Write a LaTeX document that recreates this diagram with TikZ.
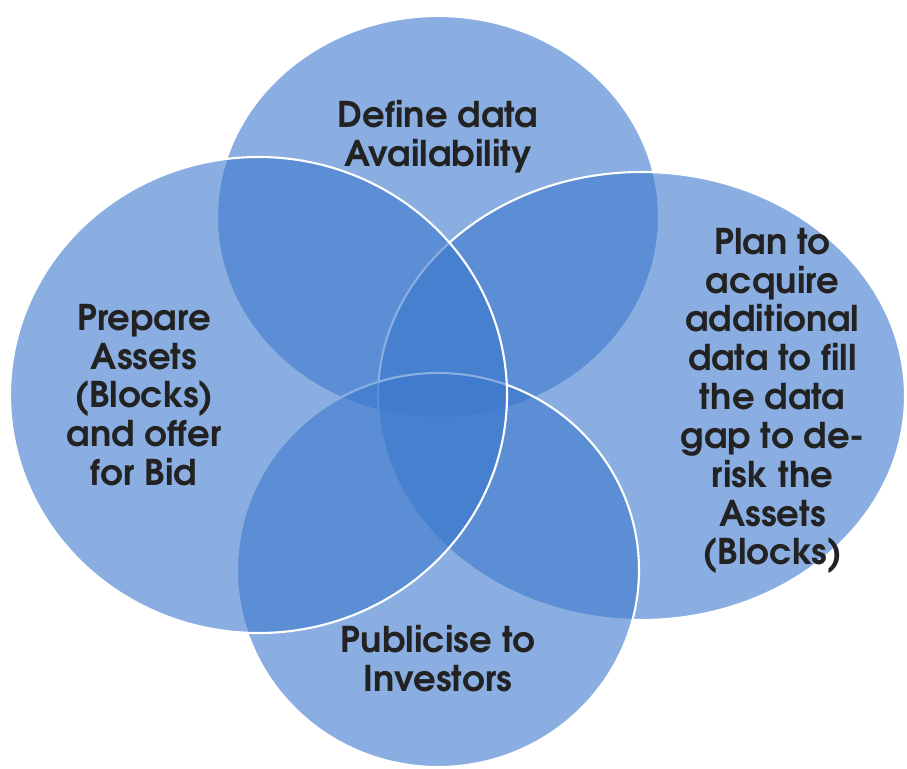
\documentclass[tikz,border=0pt]{standalone}
\usepackage{fontspec}
\setmainfont{TeX Gyre Adventor}
\usetikzlibrary{shapes.geometric}
\definecolor{vennblue}{RGB}{60,120,205}
\definecolor{txtgray}{RGB}{34,34,34}
\begin{document}
\begin{tikzpicture}[
  venn/.style={ellipse, fill=vennblue, fill opacity=0.6, draw=white, draw opacity=1, line width=1.2pt, inner sep=0pt},
  lbl/.style={text=txtgray, font=\fontsize{20.2}{22.1}\selectfont\bfseries, align=center, inner sep=0pt}
]
\useasboundingbox (0,0) rectangle (18.14,-15.36);
\node[venn, minimum width=8.84cm, minimum height=8.04cm] (ctop) at (8.76,-4.34) {};
\node[venn, minimum width=10.54cm, minimum height=8.96cm] (cright) at (12.83,-7.92) {};
\node[venn, minimum width=8.04cm, minimum height=7.88cm] (cbottom) at (8.76,-11.40) {};
\node[venn, minimum width=9.94cm, minimum height=9.52cm] (cleft) at (5.17,-7.90) {};
\node[lbl] (ttop) at (8.76,-2.74) {Define data\\Availability};
\node[lbl] (tleft) at (2.88,-7.90) {Prepare\\Assets\\(Blocks)\\and offer\\for Bid};
\node[lbl] (tright) at (15.45,-8.02) {Plan to\\acquire\\additional\\data to fill\\the data\\gap to de-\\risk the\\Assets\\(Blocks)};
\node[lbl] (tbottom) at (8.76,-13.18) {Publicise to\\Investors};
\end{tikzpicture}
\end{document}
